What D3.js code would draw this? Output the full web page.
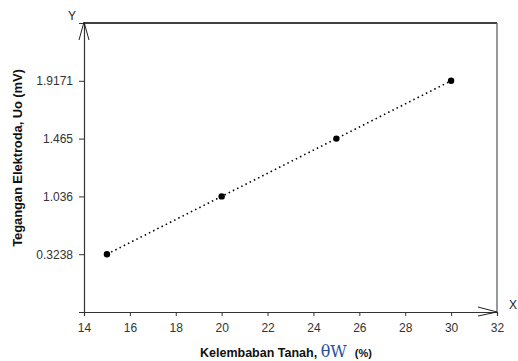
<!DOCTYPE html>
<html>
<head>
<meta charset="utf-8">
<script src="https://cdn.jsdelivr.net/npm/d3@7"></script>
<style>
  body { margin: 0; background: #fff; }
  text { font-family: Arial, "Liberation Sans", sans-serif; }
</style>
</head>
<body>
<div id="chart"></div>
<script>
// soil moisture (%) vs electrode voltage (mV)
const moisture = [15, 20, 25, 30];
const voltage = ["0.3238", "1.036", "1.465", "1.9171"];
const xTicks = [14, 16, 18, 20, 22, 24, 26, 28, 30, 32];

const width = 518, height = 361;
const plotL = 84, plotT = 23, plotR = 497, plotB = 312;

const svg = d3.select('#chart').append('svg')
  .attr('width', width)
  .attr('height', height);

const x = d3.scaleLinear().domain([14, 32]).range([plotL, plotR]);
// y ticks are equally spaced in the original, one step of padding each end
const y = d3.scalePoint().domain(voltage).range([plotB, plotT]).padding(1);

// frame top + right
svg.append('line').attr('x1', plotL).attr('x2', plotR).attr('y1', plotT).attr('y2', plotT)
  .attr('stroke', '#000').attr('stroke-width', 1.3);
svg.append('line').attr('x1', plotR).attr('x2', plotR).attr('y1', plotT).attr('y2', plotB)
  .attr('stroke', '#555').attr('stroke-width', 1.2);

// x axis
const xAxis = svg.append('g').attr('transform', `translate(0,${plotB})`)
  .call(d3.axisBottom(x).tickValues(xTicks).tickSize(4).tickPadding(7).tickFormat(d3.format('d')));
// y axis
const yAxis = svg.append('g').attr('transform', `translate(${plotL},0)`)
  .call(d3.axisLeft(y).tickSize(5).tickPadding(6));

[xAxis, yAxis].forEach(g => {
  g.select('.domain').attr('stroke', '#333').attr('stroke-width', 1.2);
  g.selectAll('.tick line').attr('stroke', '#333');
  g.selectAll('.tick text').attr('fill', '#333').style('font-size', '12px')
    .style('font-family', 'Arial, "Liberation Sans", sans-serif');
});

// arrow heads
svg.append('path')
  .attr('d', `M${plotL - 5},${plotT + 17}L${plotL},${plotT - 1}L${plotL + 5},${plotT + 17}`)
  .attr('fill', 'none').attr('stroke', '#222').attr('stroke-width', 1);
svg.append('path')
  .attr('d', `M${plotR - 19},${plotB - 5}L${plotR},${plotB}L${plotR - 19},${plotB + 4}`)
  .attr('fill', 'none').attr('stroke', '#222').attr('stroke-width', 1);
svg.append('text').attr('x', plotL - 12).attr('y', plotT - 3).attr('text-anchor', 'middle')
  .style('font-size', '12px').attr('fill', '#222').text('Y');
svg.append('text').attr('x', plotR + 16).attr('y', plotB - 3).attr('text-anchor', 'middle')
  .style('font-size', '12px').attr('fill', '#222').text('X');

// data
const pts = moisture.map((m, i) => ({ m: m, v: voltage[i] }));
svg.append('path')
  .datum(pts)
  .attr('d', d3.line().x(d => x(d.m)).y(d => y(d.v)))
  .attr('fill', 'none').attr('stroke', '#000').attr('stroke-width', 1.6)
  .attr('stroke-dasharray', '1.5,3.2');
svg.selectAll('circle.pt').data(pts).enter().append('circle')
  .attr('class', 'pt')
  .attr('cx', d => x(d.m)).attr('cy', d => y(d.v)).attr('r', 3.2)
  .attr('fill', '#000');

// axis titles
svg.append('text')
  .attr('transform', 'translate(22,158) rotate(-90)')
  .attr('text-anchor', 'middle')
  .style('font-size', '13px').style('font-weight', 'bold').style('letter-spacing', '-0.1px')
  .attr('fill', '#111')
  .text('Tegangan Elektroda, Uo (mV)');

const xt = svg.append('text').attr('x', 200).attr('y', 357)
  .style('font-size', '12.5px').style('font-weight', 'bold').attr('fill', '#111');
xt.append('tspan').text('Kelembaban Tanah, ');
xt.append('tspan').style('font-family', '"DejaVu Serif", "Liberation Serif", serif')
  .style('font-weight', 'normal').style('font-size', '16px').attr('fill', '#2b4f9e').text('θW');
xt.append('tspan').attr('dx', 8).style('font-size', '11px').text('(%)');
</script>
</body>
</html>
